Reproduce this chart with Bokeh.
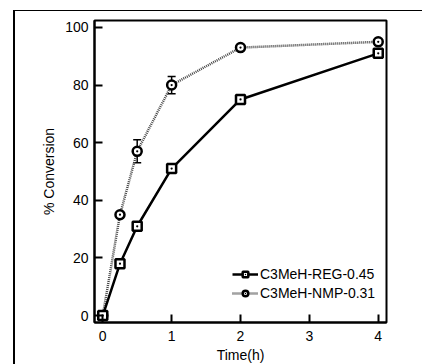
from bokeh.plotting import figure
from bokeh.models import (ColumnDataSource, Whisker, TeeHead, FixedTicker, Legend, LegendItem, Range1d)
from bokeh.embed import file_html
from bokeh.resources import INLINE

# Data
time_h = [0, 0.25, 0.5, 1, 2, 4]
reg_045 = [0, 18, 31, 51, 75, 91]
nmp_031 = [0, 35, 57, 80, 93, 95]
err_t = [0.5, 1]
err_lo = [53, 77]
err_hi = [61, 83]
x_ticks = [0, 1, 2, 3, 4]
y_ticks = [0, 20, 40, 60, 80, 100]
labels = ["C3MeH-REG-0.45", "C3MeH-NMP-0.31"]

FONT = "Liberation Sans"

p = figure(frame_width=292, frame_height=302, output_backend="svg", toolbar_location=None,
           x_range=Range1d(-0.12, 4.12), y_range=Range1d(-2.4, 102.4),
           min_border_left=79, min_border_right=36, min_border_top=9, min_border_bottom=42)
p.styles = {"border-left": "2px solid black", "border-top": "1px solid black",
            "position": "relative", "left": "13px", "top": "10px"}

p.xgrid.visible = False
p.ygrid.visible = False
p.outline_line_color = "black"
p.outline_line_width = 2
p.outline_line_alpha = 1

for ax in (p.xaxis[0], p.yaxis[0]):
    ax.axis_line_width = 2
    ax.axis_line_color = "black"
    ax.major_tick_in = 8
    ax.major_tick_out = 0
    ax.major_tick_line_width = 2
    ax.major_tick_line_color = "black"
    ax.minor_tick_line_color = None
    ax.major_label_text_font = FONT
    ax.major_label_text_font_size = "14px"
    ax.major_label_text_color = "black"
    ax.axis_label_text_font = FONT
    ax.axis_label_text_font_size = "14px"
    ax.axis_label_text_font_style = "normal"
    ax.axis_label_text_color = "black"

p.xaxis.ticker = FixedTicker(ticks=x_ticks)
p.yaxis.ticker = FixedTicker(ticks=y_ticks)
p.xaxis.axis_label = "Time(h)"
p.yaxis.axis_label = "% Conversion"
p.xaxis.major_label_standoff = 8
p.xaxis.axis_label_standoff = 3
p.yaxis.major_label_standoff = 6
p.yaxis.axis_label_standoff = 5

src_err = ColumnDataSource(dict(t=err_t, lo=err_lo, hi=err_hi))
w = Whisker(source=src_err, base="t", lower="lo", upper="hi",
            line_color="black", line_width=1.5,
            upper_head=TeeHead(size=8, line_width=1.5, line_color="black"),
            lower_head=TeeHead(size=8, line_width=1.5, line_color="black"))
p.add_layout(w)

src = ColumnDataSource(dict(t=time_h, reg=reg_045, nmp=nmp_031))
l2 = p.line("t", "nmp", source=src, line_color="#444444", line_width=2.5, line_dash="1 1")
s2 = p.scatter("t", "nmp", source=src, marker="circle_dot", size=9, line_color="black",
               line_width=2.5, fill_color="white")
l1 = p.line("t", "reg", source=src, line_color="black", line_width=2.5)
s1 = p.scatter("t", "reg", source=src, marker="square_dot", size=9, line_color="black",
               line_width=2.5, fill_color="white")

legend = Legend(items=[LegendItem(label=labels[0], renderers=[l1, s1]),
                       LegendItem(label=labels[1], renderers=[l2, s2])],
                location=(138, 21), padding=0, margin=0, spacing=3,
                glyph_width=26, glyph_height=14, label_standoff=2,
                label_text_font=FONT, label_text_font_size="14px", label_text_color="black",
                border_line_color=None, background_fill_alpha=0)
p.add_layout(legend)

open("out.html", "w").write(file_html(p, INLINE))
